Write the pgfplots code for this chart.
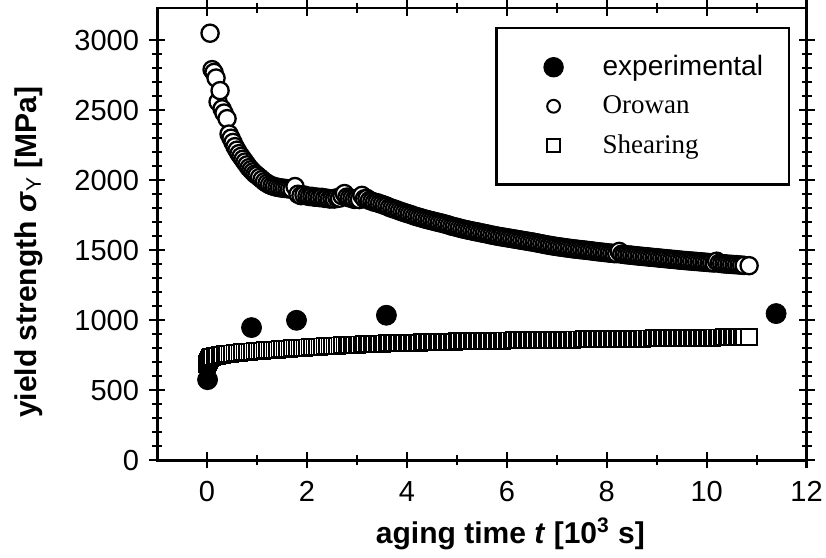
\documentclass[border=0pt]{standalone}
\usepackage{fontspec}
\setmainfont{Liberation Sans}
\newfontfamily\seriffont{Liberation Serif}
\usepackage{pgfplots}
\pgfplotsset{compat=1.18}

\begin{document}
\begin{tikzpicture}
\begin{axis}[
  name=ax,
  scale only axis,
  width=324.5pt, height=226pt,
  xmin=-1, xmax=12, ymin=0, ymax=3230,
  xtick={0,2,...,12},
  ytick={0,500,...,3000},
  minor x tick num=1,
  minor y tick num=4,
  tick align=center,
  major tick length=8pt,
  minor tick length=5pt,
  every tick/.style={black, line width=1.1pt},
  axis line style={line width=1.4pt},
  tick label style={font=\fontsize{14.5}{16}\selectfont},
  /pgf/number format/assume math mode=true,
  /pgf/number format/1000 sep={},
  xticklabel style={yshift=-3pt},
  yticklabel style={xshift=-1.5pt},
  xlabel={\bfseries aging time \textit{t} [10\textsuperscript{3} s]},
  ylabel={\bfseries yield strength \textit{σ}\textsubscript{\normalfont Y} [MPa]},
  label style={font=\fontsize{15}{18}\selectfont},
  xlabel style={at={(axis description cs:0.544,-0.1836)}, anchor=base},
  ylabel style={at={(axis description cs:-0.186,0.46)}, anchor=base},
  reverse legend,
  legend cell align=left,
  legend image code/.code={
    \path[draw=none, fill=none] (-28.5pt,-9.75pt) rectangle (24.5pt,9.75pt);
    \draw[#1] plot coordinates {(0pt,0pt)};
  },
  legend style={
    at={(0.5208,0.958)}, anchor=north west,
    draw=black, line width=1.2pt,
    inner xsep=0pt, inner ysep=9.75pt,
    row sep=0pt, column sep=0pt,
    nodes={draw=none, inner sep=0pt, text width=93pt, align=left},
    font=\fontsize{14}{16}\selectfont,
  },
]
% precipitate shearing estimate
\addplot[only marks, mark=square*, mark size=4pt,
  mark options={fill=white, draw=black, line width=0.95pt},
  legend image post style={mark size=3.2pt,
    mark options={fill=white, draw=black, line width=0.9pt}}]
  coordinates {
  (0.00,690) (0.02,705) (0.04,718) (0.06,728) (0.08,735) (0.10,740)
  (0.15,745) (0.20,748) (0.25,751) (0.30,754) (0.35,757) (0.40,759)
  (0.45,761) (0.50,763) (0.55,765) (0.60,767) (0.65,769) (0.70,771)
  (0.75,773) (0.80,774) (0.85,776) (0.90,777) (0.95,779) (1.00,780)
  (1.05,782) (1.10,783) (1.15,785) (1.20,786) (1.25,788) (1.30,789)
  (1.35,790) (1.40,791) (1.45,793) (1.50,794) (1.55,795) (1.60,796)
  (1.65,798) (1.70,799) (1.75,800) (1.80,801) (1.85,802) (1.90,803)
  (1.95,805) (2.00,806) (2.05,807) (2.10,809) (2.15,810) (2.20,811)
  (2.25,812) (2.30,813) (2.35,814) (2.40,815) (2.45,816) (2.50,817)
  (2.55,818) (2.60,819) (2.65,820) (2.70,821) (2.75,822) (2.80,823)
  (2.85,824) (2.90,825) (2.95,825) (3.00,826) (3.05,827) (3.10,827)
  (3.15,828) (3.20,829) (3.25,830) (3.30,830) (3.35,831) (3.40,832)
  (3.45,832) (3.50,833) (3.55,834) (3.60,835) (3.65,835) (3.70,836)
  (3.75,836) (3.80,837) (3.85,837) (3.90,838) (3.95,838) (4.00,839)
  (4.05,839) (4.10,840) (4.15,840) (4.20,841) (4.25,841) (4.30,842)
  (4.35,842) (4.40,843) (4.45,843) (4.50,844) (4.55,844) (4.60,845)
  (4.65,845) (4.70,846) (4.75,846) (4.80,847) (4.85,847) (4.90,848)
  (4.95,848) (5.00,849) (5.05,849) (5.10,849) (5.15,850) (5.20,850)
  (5.25,850) (5.30,851) (5.35,851) (5.40,852) (5.45,852) (5.50,852)
  (5.55,853) (5.60,853) (5.65,853) (5.70,854) (5.75,854) (5.80,855)
  (5.85,855) (5.90,855) (5.95,856) (6.00,856) (6.05,856) (6.10,856)
  (6.15,857) (6.20,857) (6.25,857) (6.30,857) (6.35,858) (6.40,858)
  (6.45,858) (6.50,858) (6.55,859) (6.60,859) (6.65,859) (6.70,859)
  (6.75,860) (6.80,860) (6.85,860) (6.90,860) (6.95,861) (7.00,861)
  (7.05,861) (7.10,861) (7.15,862) (7.20,862) (7.25,862) (7.30,862)
  (7.35,863) (7.40,863) (7.45,863) (7.50,863) (7.55,864) (7.60,864)
  (7.65,864) (7.70,864) (7.75,865) (7.80,865) (7.85,865) (7.90,865)
  (7.95,866) (8.00,866) (8.05,866) (8.10,866) (8.15,867) (8.20,867)
  (8.25,867) (8.30,867) (8.35,868) (8.40,868) (8.45,868) (8.50,868)
  (8.55,869) (8.60,869) (8.65,869) (8.70,869) (8.75,870) (8.80,870)
  (8.85,870) (8.90,870) (8.95,871) (9.00,871) (9.05,871) (9.10,871)
  (9.15,872) (9.20,872) (9.25,872) (9.30,872) (9.35,873) (9.40,873)
  (9.45,873) (9.50,873) (9.55,874) (9.60,874) (9.65,874) (9.70,874)
  (9.75,875) (9.80,875) (9.85,875) (9.90,875) (9.95,876) (10.00,876)
  (10.05,876) (10.10,876) (10.15,877) (10.20,877) (10.25,877) (10.30,877)
  (10.35,878) (10.40,878) (10.45,878) (10.50,878) (10.55,879) (10.60,879)
  (10.65,879) (10.70,879) (10.75,880) (10.84,880)
  };
\addlegendentry{\seriffont\fontsize{13.5}{15}\selectfont Shearing}

% Orowan bypass estimate
\addplot[only marks, mark=*, mark size=4.3pt,
  mark options={fill=white, draw=black, line width=1.15pt},
  legend image post style={mark size=3.2pt,
    mark options={fill=white, draw=black, line width=1pt}}]
  coordinates {
  (0.06,3050) (0.10,2790) (0.14,2770) (0.18,2730) (0.22,2560) (0.26,2640)
  (0.30,2510) (0.34,2480) (0.40,2440) (0.44,2330) (0.48,2300) (0.52,2270)
  (0.56,2240) (0.60,2215) (0.64,2190) (0.68,2170) (0.72,2150) (0.76,2130)
  (0.80,2110) (0.84,2090) (0.88,2075) (0.92,2060) (0.96,2045) (1.00,2035)
  (1.05,2020) (1.10,2005) (1.15,1990) (1.20,1978) (1.25,1968) (1.30,1960)
  (1.35,1955) (1.40,1950) (1.45,1947) (1.50,1944) (1.55,1942) (1.60,1940)
  (1.65,1938) (1.70,1936) (1.76,1955) (1.82,1900) (1.88,1890) (1.94,1895)
  (2.00,1888) (2.05,1884) (2.10,1885) (2.15,1879) (2.20,1880) (2.25,1876)
  (2.30,1878) (2.35,1871) (2.40,1872) (2.45,1866) (2.50,1868) (2.55,1866)
  (2.60,1875) (2.65,1872) (2.70,1890) (2.75,1905) (2.80,1880) (2.85,1874)
  (2.90,1870) (2.95,1863) (3.00,1865) (3.05,1862) (3.10,1892) (3.15,1868)
  (3.20,1870) (3.25,1856) (3.30,1850) (3.35,1843) (3.40,1840) (3.45,1833)
  (3.50,1828) (3.55,1821) (3.60,1815) (3.65,1806) (3.70,1800) (3.75,1794)
  (3.80,1788) (3.85,1781) (3.90,1775) (3.95,1769) (4.00,1763) (4.05,1758)
  (4.10,1752) (4.15,1745) (4.20,1740) (4.25,1735) (4.30,1730) (4.35,1724)
  (4.40,1720) (4.45,1715) (4.50,1711) (4.55,1706) (4.60,1702) (4.65,1697)
  (4.70,1694) (4.75,1688) (4.80,1684) (4.85,1678) (4.90,1672) (4.95,1668)
  (5.00,1664) (5.05,1659) (5.10,1654) (5.15,1650) (5.20,1646) (5.25,1642)
  (5.30,1639) (5.35,1634) (5.40,1632) (5.45,1627) (5.50,1624) (5.55,1620)
  (5.60,1617) (5.65,1612) (5.70,1609) (5.75,1605) (5.80,1602) (5.85,1598)
  (5.90,1596) (5.95,1592) (6.00,1590) (6.05,1586) (6.10,1584) (6.15,1580)
  (6.20,1578) (6.25,1574) (6.30,1572) (6.35,1568) (6.40,1566) (6.45,1562)
  (6.50,1560) (6.55,1556) (6.60,1553) (6.65,1549) (6.70,1546) (6.75,1542)
  (6.80,1539) (6.85,1535) (6.90,1533) (6.95,1529) (7.00,1527) (7.05,1524)
  (7.10,1522) (7.15,1519) (7.20,1517) (7.25,1514) (7.30,1512) (7.35,1509)
  (7.40,1508) (7.45,1505) (7.50,1504) (7.55,1501) (7.60,1500) (7.65,1497)
  (7.70,1496) (7.75,1492) (7.80,1491) (7.85,1488) (7.90,1487) (7.95,1484)
  (8.00,1483) (8.05,1480) (8.10,1479) (8.15,1476) (8.20,1476) (8.25,1492)
  (8.30,1472) (8.35,1470) (8.40,1468) (8.45,1466) (8.50,1465) (8.55,1462)
  (8.60,1461) (8.65,1458) (8.70,1457) (8.75,1455) (8.80,1454) (8.85,1451)
  (8.90,1450) (8.95,1448) (9.00,1447) (9.05,1444) (9.10,1443) (9.15,1441)
  (9.20,1440) (9.25,1437) (9.30,1436) (9.35,1434) (9.40,1433) (9.45,1430)
  (9.50,1429) (9.55,1427) (9.60,1426) (9.65,1424) (9.70,1423) (9.75,1421)
  (9.80,1420) (9.85,1418) (9.90,1417) (9.95,1415) (10.00,1414) (10.05,1412)
  (10.10,1411) (10.15,1409) (10.20,1422) (10.25,1407) (10.30,1405) (10.35,1403)
  (10.40,1402) (10.45,1400) (10.50,1399) (10.55,1398) (10.60,1397) (10.65,1395)
  (10.70,1394) (10.75,1392) (10.85,1390)
  };
\addlegendentry{\seriffont\fontsize{13.5}{15}\selectfont Orowan}

% measured yield strength
\addplot[only marks, mark=*, mark size=5pt,
  mark options={fill=black, draw=black},
  legend image post style={mark size=4.5pt}]
  coordinates {
  (0.01,576) (0.89,948) (1.79,1000) (3.59,1036) (11.39,1048)
  };
\addlegendentry{experimental}
\end{axis}
\pgfresetboundingbox
\path[use as bounding box] ([shift={(-78.5pt,-48.5pt)}]ax.south west)
  rectangle ([shift={(9.7pt,4pt)}]ax.north east);
\end{tikzpicture}
\end{document}
